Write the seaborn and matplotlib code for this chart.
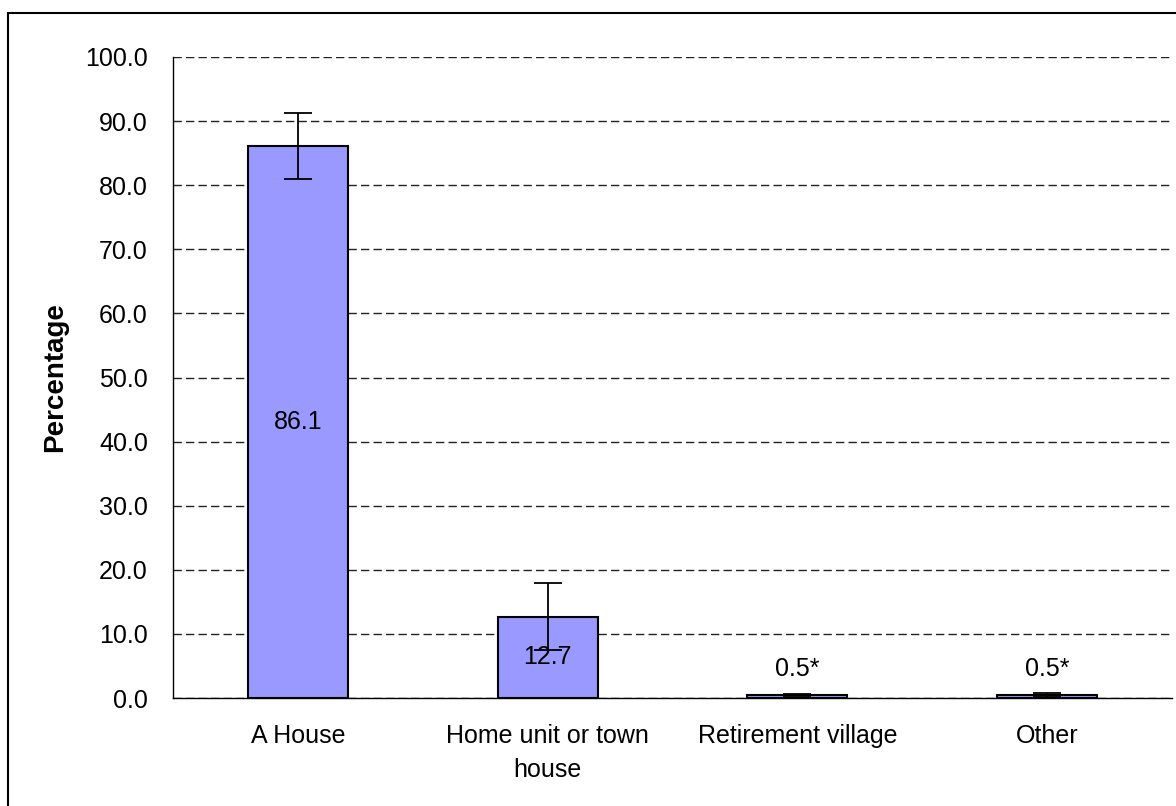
import matplotlib

matplotlib.use("Agg")

import matplotlib.pyplot as plt
import pandas as pd
import seaborn as sns
from matplotlib.patches import Rectangle

categories = ["A House", "Home unit or town\nhouse", "Retirement village", "Other"]
values = [86.1, 12.7, 0.5, 0.5]
errors = [5.1, 5.2, 0.2, 0.3]
labels = ["86.1", "12.7", "0.5*", "0.5*"]
y_ticks = [0, 10, 20, 30, 40, 50, 60, 70, 80, 90, 100]

BAR_COLOR = "#9999FF"

sns.set_style("white")
plt.rcParams["font.family"] = ["Liberation Sans", "DejaVu Sans"]
plt.rcParams["text.color"] = "black"
plt.rcParams["axes.labelcolor"] = "black"
plt.rcParams["xtick.color"] = "black"
plt.rcParams["ytick.color"] = "black"

df = pd.DataFrame({"category": categories, "value": values})

fig = plt.figure(figsize=(11.76, 8.06), dpi=100)
ax = fig.add_axes([173 / 1176, 108 / 806, 999 / 1176, 641 / 806])

sns.barplot(data=df, x="category", y="value", color=BAR_COLOR, width=0.4,
            edgecolor="black", linewidth=1.5, saturation=1, errorbar=None, ax=ax)
ax.errorbar(range(len(values)), values, yerr=errors, fmt="none", ecolor="black",
            elinewidth=1.3, capsize=10, capthick=1.3, zorder=5)

for i, (v, lab) in enumerate(zip(values, labels)):
    if v > 5:
        ax.text(i, v / 2, lab, ha="center", va="center", fontsize=18, color="black", zorder=6)
    else:
        ax.text(i, v + 4.0, lab, ha="center", va="center", fontsize=18, color="black", zorder=6)

ax.set_xlim(-0.5, len(values) - 0.5)
ax.set_ylim(0, 100)
ax.set_yticks(y_ticks)
ax.set_yticklabels([f"{t:.1f}" for t in y_ticks])
ax.yaxis.grid(True, linestyle=(0, (6, 3)), color="#222222", linewidth=1)
ax.set_axisbelow(True)

ax.set_xticks(range(len(values)))
ax.set_xticks([i - 0.5 for i in range(len(values) + 1)], minor=True)
for t in ax.get_xticklabels():
    t.set_linespacing(1.5)
ax.tick_params(axis="x", which="major", length=0, pad=19, labelsize=18)
ax.tick_params(axis="x", which="minor", length=8, width=1, color="black", direction="out")
ax.tick_params(axis="y", length=8, width=1, color="black", direction="out", pad=10, labelsize=18)
ax.set_xlabel("")
ax.set_ylabel("Percentage", fontsize=20, fontweight="bold", labelpad=12)

for side in ["top", "right"]:
    ax.spines[side].set_visible(False)
for side in ["left", "bottom"]:
    ax.spines[side].set_color("black")
    ax.spines[side].set_linewidth(1)

fig.patches.append(Rectangle((8 / 1176, -0.01), 1.1, 793 / 806 + 0.01, transform=fig.transFigure,
                             fill=False, edgecolor="black", linewidth=1.5))

fig.savefig("out.png", dpi=100)
